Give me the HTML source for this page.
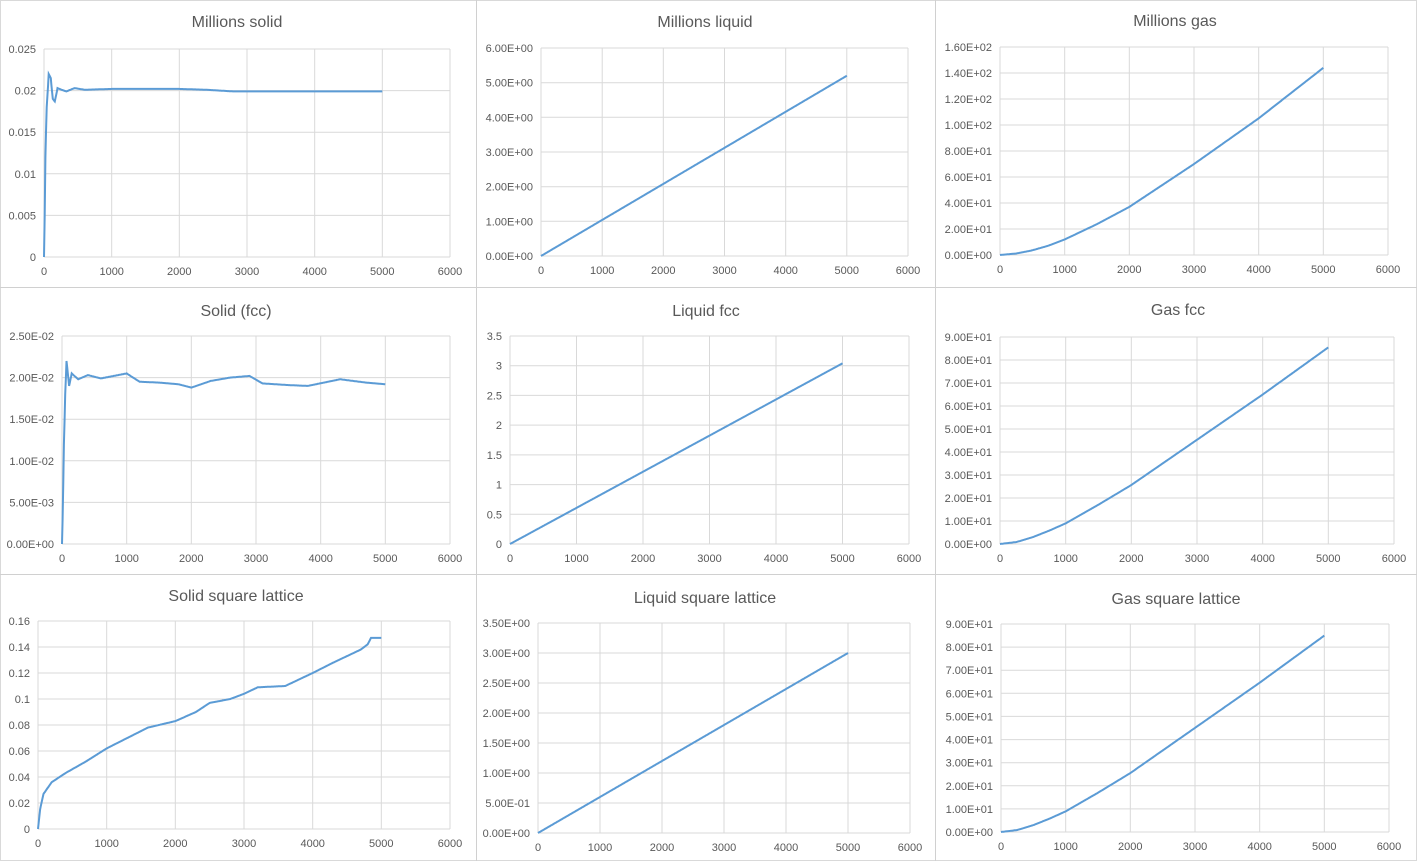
<!DOCTYPE html>
<html><head><meta charset="utf-8"><style>
body{margin:0;background:#fff;width:1417px;height:861px;overflow:hidden}
svg{display:block}
text{font-family:"Liberation Sans",sans-serif;fill:#595959}
</style></head><body>
<svg id="s" width="1417" height="861" xmlns="http://www.w3.org/2000/svg"></svg>
<script>
const s=document.getElementById('s');let h='';
h+='<rect x="0.5" y="0.5" width="1416" height="860" fill="none" stroke="#d9d9d9"/>';
[476,935].forEach(x=>h+=`<line x1="${x}.5" y1="0" x2="${x}.5" y2="861" stroke="#d0d0d0"/>`);
[287,574].forEach(y=>h+=`<line x1="0" y1="${y}.5" x2="1417" y2="${y}.5" stroke="#d0d0d0"/>`);
function interp(pts,x){for(let i=1;i<pts.length;i++){if(x<=pts[i][0]){const a=pts[i-1],b=pts[i];return a[1]+(b[1]-a[1])*(x-a[0])/(b[0]-a[0]);}}return pts[pts.length-1][1];}
function panel(o){
 const {x0,x1,y0,y1,title,tx,ty,ymax,ny,fmt,f}=o;
 h+=`<text x="${tx}" y="${ty}" font-size="16" text-anchor="middle">${title}</text>`;
 for(let i=0;i<=6;i++){const x=x0+(x1-x0)*i/6;h+=`<line x1="${x.toFixed(1)}" y1="${y0}" x2="${x.toFixed(1)}" y2="${y1}" stroke="#d9d9d9"/>`;
  h+=`<text x="${x.toFixed(1)}" y="${y1+18}" font-size="11" text-anchor="middle">${i*1000}</text>`;}
 for(let j=0;j<=ny;j++){const y=y1-(y1-y0)*j/ny;h+=`<line x1="${x0}" y1="${y.toFixed(1)}" x2="${x1}" y2="${y.toFixed(1)}" stroke="#d9d9d9"/>`;
  h+=`<text x="${x0-8}" y="${(y+4).toFixed(1)}" font-size="11" text-anchor="end">${fmt(ymax*j/ny)}</text>`;}
 let d='';for(let t=0;t<=5000;t+=10){const v=f(t);const X=x0+(x1-x0)*t/6000,Y=y1-(y1-y0)*v/ymax;d+=(t?'L':'M')+X.toFixed(1)+' '+Y.toFixed(1);}
 h+=`<path d="${d}" fill="none" stroke="#5b9bd5" stroke-width="2"/>`;
}
const E=v=>{if(v===0)return '0.00E+00';let e=Math.floor(Math.log10(v)+1e-9);let m=v/Math.pow(10,e);return m.toFixed(2)+'E'+(e<0?'-':'+')+String(Math.abs(e)).padStart(2,'0');};
const plain=v=>String(+v.toFixed(4));
const solidA=[[0,0],[10,0.005],[20,0.012],[40,0.018],[70,0.022],[100,0.0215],[130,0.019],[160,0.0187],[200,0.0203],[260,0.0201],[330,0.0199],[450,0.0203],[600,0.0201],[1000,0.0202],[2000,0.0202],[2400,0.0201],[2800,0.0199],[3000,0.0199],[4400,0.0199],[5000,0.0199]];
const solidB=[[0,0],[10,0.003],[30,0.012],[50,0.018],[70,0.022],[110,0.019],[150,0.0205],[250,0.0198],[400,0.0203],[600,0.0199],[800,0.0202],[1000,0.0205],[1200,0.0195],[1500,0.0194],[1800,0.0192],[2000,0.0188],[2300,0.0196],[2600,0.0200],[2900,0.0202],[3100,0.0193],[3500,0.0191],[3800,0.0190],[4300,0.0198],[4700,0.0194],[5000,0.0192]];
const solidC=[[0,0],[30,0.015],[80,0.027],[200,0.036],[400,0.043],[700,0.052],[1000,0.062],[1300,0.07],[1600,0.078],[2000,0.083],[2300,0.09],[2500,0.097],[2800,0.1],[3000,0.104],[3200,0.109],[3600,0.11],[4000,0.12],[4300,0.128],[4700,0.138],[4800,0.142],[4850,0.147],[5000,0.147]];
const gA=[[0,0],[250,0.008],[500,0.025],[750,0.05],[1000,0.083],[1500,0.165],[2000,0.257],[3000,0.486],[4000,0.73],[5000,1]];
const gB=[[0,0],[250,0.01],[500,0.035],[750,0.068],[1000,0.105],[1500,0.2],[2000,0.30],[3000,0.53],[4000,0.76],[5000,1]];
const gas=(k,tb)=>t=>k*interp(tb,t);
panel({x0:44,x1:450,y0:49,y1:257,title:'Millions solid',tx:237,ty:27,ymax:0.025,ny:5,fmt:plain,f:t=>interp(solidA,t)});
panel({x0:541,x1:908,y0:48,y1:256,title:'Millions liquid',tx:705,ty:27,ymax:6,ny:6,fmt:E,f:t=>5.2*t/5000});
panel({x0:1000,x1:1388,y0:47,y1:255,title:'Millions gas',tx:1175,ty:26,ymax:160,ny:8,fmt:E,f:gas(144,gA)});
panel({x0:62,x1:450,y0:336,y1:544,title:'Solid (fcc)',tx:236,ty:316,ymax:0.025,ny:5,fmt:E,f:t=>interp(solidB,t)});
panel({x0:510,x1:909,y0:336,y1:544,title:'Liquid fcc',tx:706,ty:316,ymax:3.5,ny:7,fmt:plain,f:t=>3.04*t/5000});
panel({x0:1000,x1:1394,y0:337,y1:544,title:'Gas fcc',tx:1178,ty:315,ymax:90,ny:9,fmt:E,f:gas(85.5,gB)});
panel({x0:38,x1:450,y0:621,y1:829,title:'Solid square lattice',tx:236,ty:601,ymax:0.16,ny:8,fmt:plain,f:t=>interp(solidC,t)});
panel({x0:538,x1:910,y0:623,y1:833,title:'Liquid square lattice',tx:705,ty:603,ymax:3.5,ny:7,fmt:E,f:t=>3.0*t/5000});
panel({x0:1001,x1:1389,y0:624,y1:832,title:'Gas square lattice',tx:1176,ty:604,ymax:90,ny:9,fmt:E,f:gas(85,gB)});
s.innerHTML=h;
</script>
</body></html>
